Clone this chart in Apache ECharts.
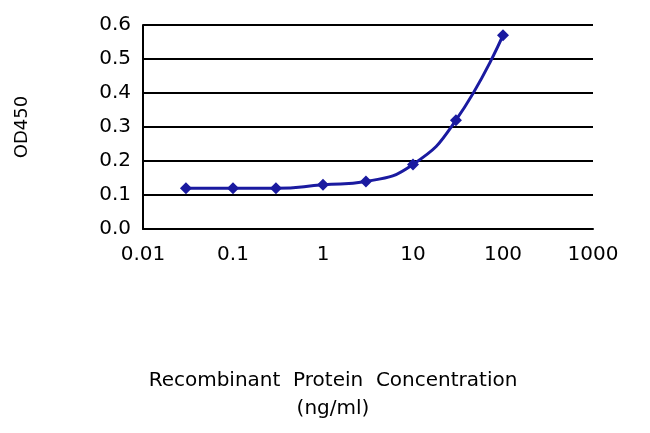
<!DOCTYPE html>
<html><head><meta charset="utf-8">
<script src="https://cdn.jsdelivr.net/npm/echarts@6/dist/echarts.min.js"></script>
<style>html,body{margin:0;background:#fff}#c{width:650px;height:433px}</style>
</head><body><div id="c"></div>
<script>
const concentrations = [0.03, 0.1, 0.3, 1, 3, 10, 30, 100];
const od450 = [0.12, 0.12, 0.12, 0.13, 0.14, 0.19, 0.32, 0.57];
const yTicks = ['0.0','0.1','0.2','0.3','0.4','0.5','0.6'];
const chart = echarts.init(document.getElementById('c'));
const font = 'DejaVu Sans';
chart.setOption({
  animation: false,
  grid: {left: 143, right: 57, top: 25, bottom: 204},
  xAxis: {
    type: 'log', min: 0.01, max: 1000, logBase: 10,
    axisLine: {lineStyle: {color: '#000', width: 2}},
    axisTick: {show: false},
    splitLine: {show: false},
    axisLabel: {color: '#000', fontFamily: font, fontSize: 20, margin: 16,
      formatter: v => String(+v.toPrecision(3))},
    name: 'Recombinant  Protein  Concentration\n(ng/ml)',
    nameLocation: 'middle', nameGap: 138,
    nameTextStyle: {color: '#000', fontFamily: font, fontSize: 20, lineHeight: 28, padding: [0, 70, 0, 0]}
  },
  yAxis: {
    type: 'value', min: 0, max: 0.6, interval: 0.1,
    axisLine: {show: true, lineStyle: {color: '#000', width: 2}},
    axisTick: {show: false},
    splitLine: {lineStyle: {color: '#000', width: 2}},
    axisLabel: {color: '#000', fontFamily: font, fontSize: 20, margin: 12,
      formatter: (v) => yTicks[Math.round(v * 10)]},
    name: 'OD450', nameLocation: 'middle', nameGap: 112,
    nameTextStyle: {color: '#000', fontFamily: font, fontSize: 18}
  },
  series: [{
    type: 'line', smooth: true,
    data: concentrations.map((c, i) => [c, od450[i]]),
    symbol: 'diamond', symbolSize: 12,
    lineStyle: {color: '#1a1aa0', width: 3},
    itemStyle: {color: '#1a1aa0'}
  }]
});
</script></body></html>
